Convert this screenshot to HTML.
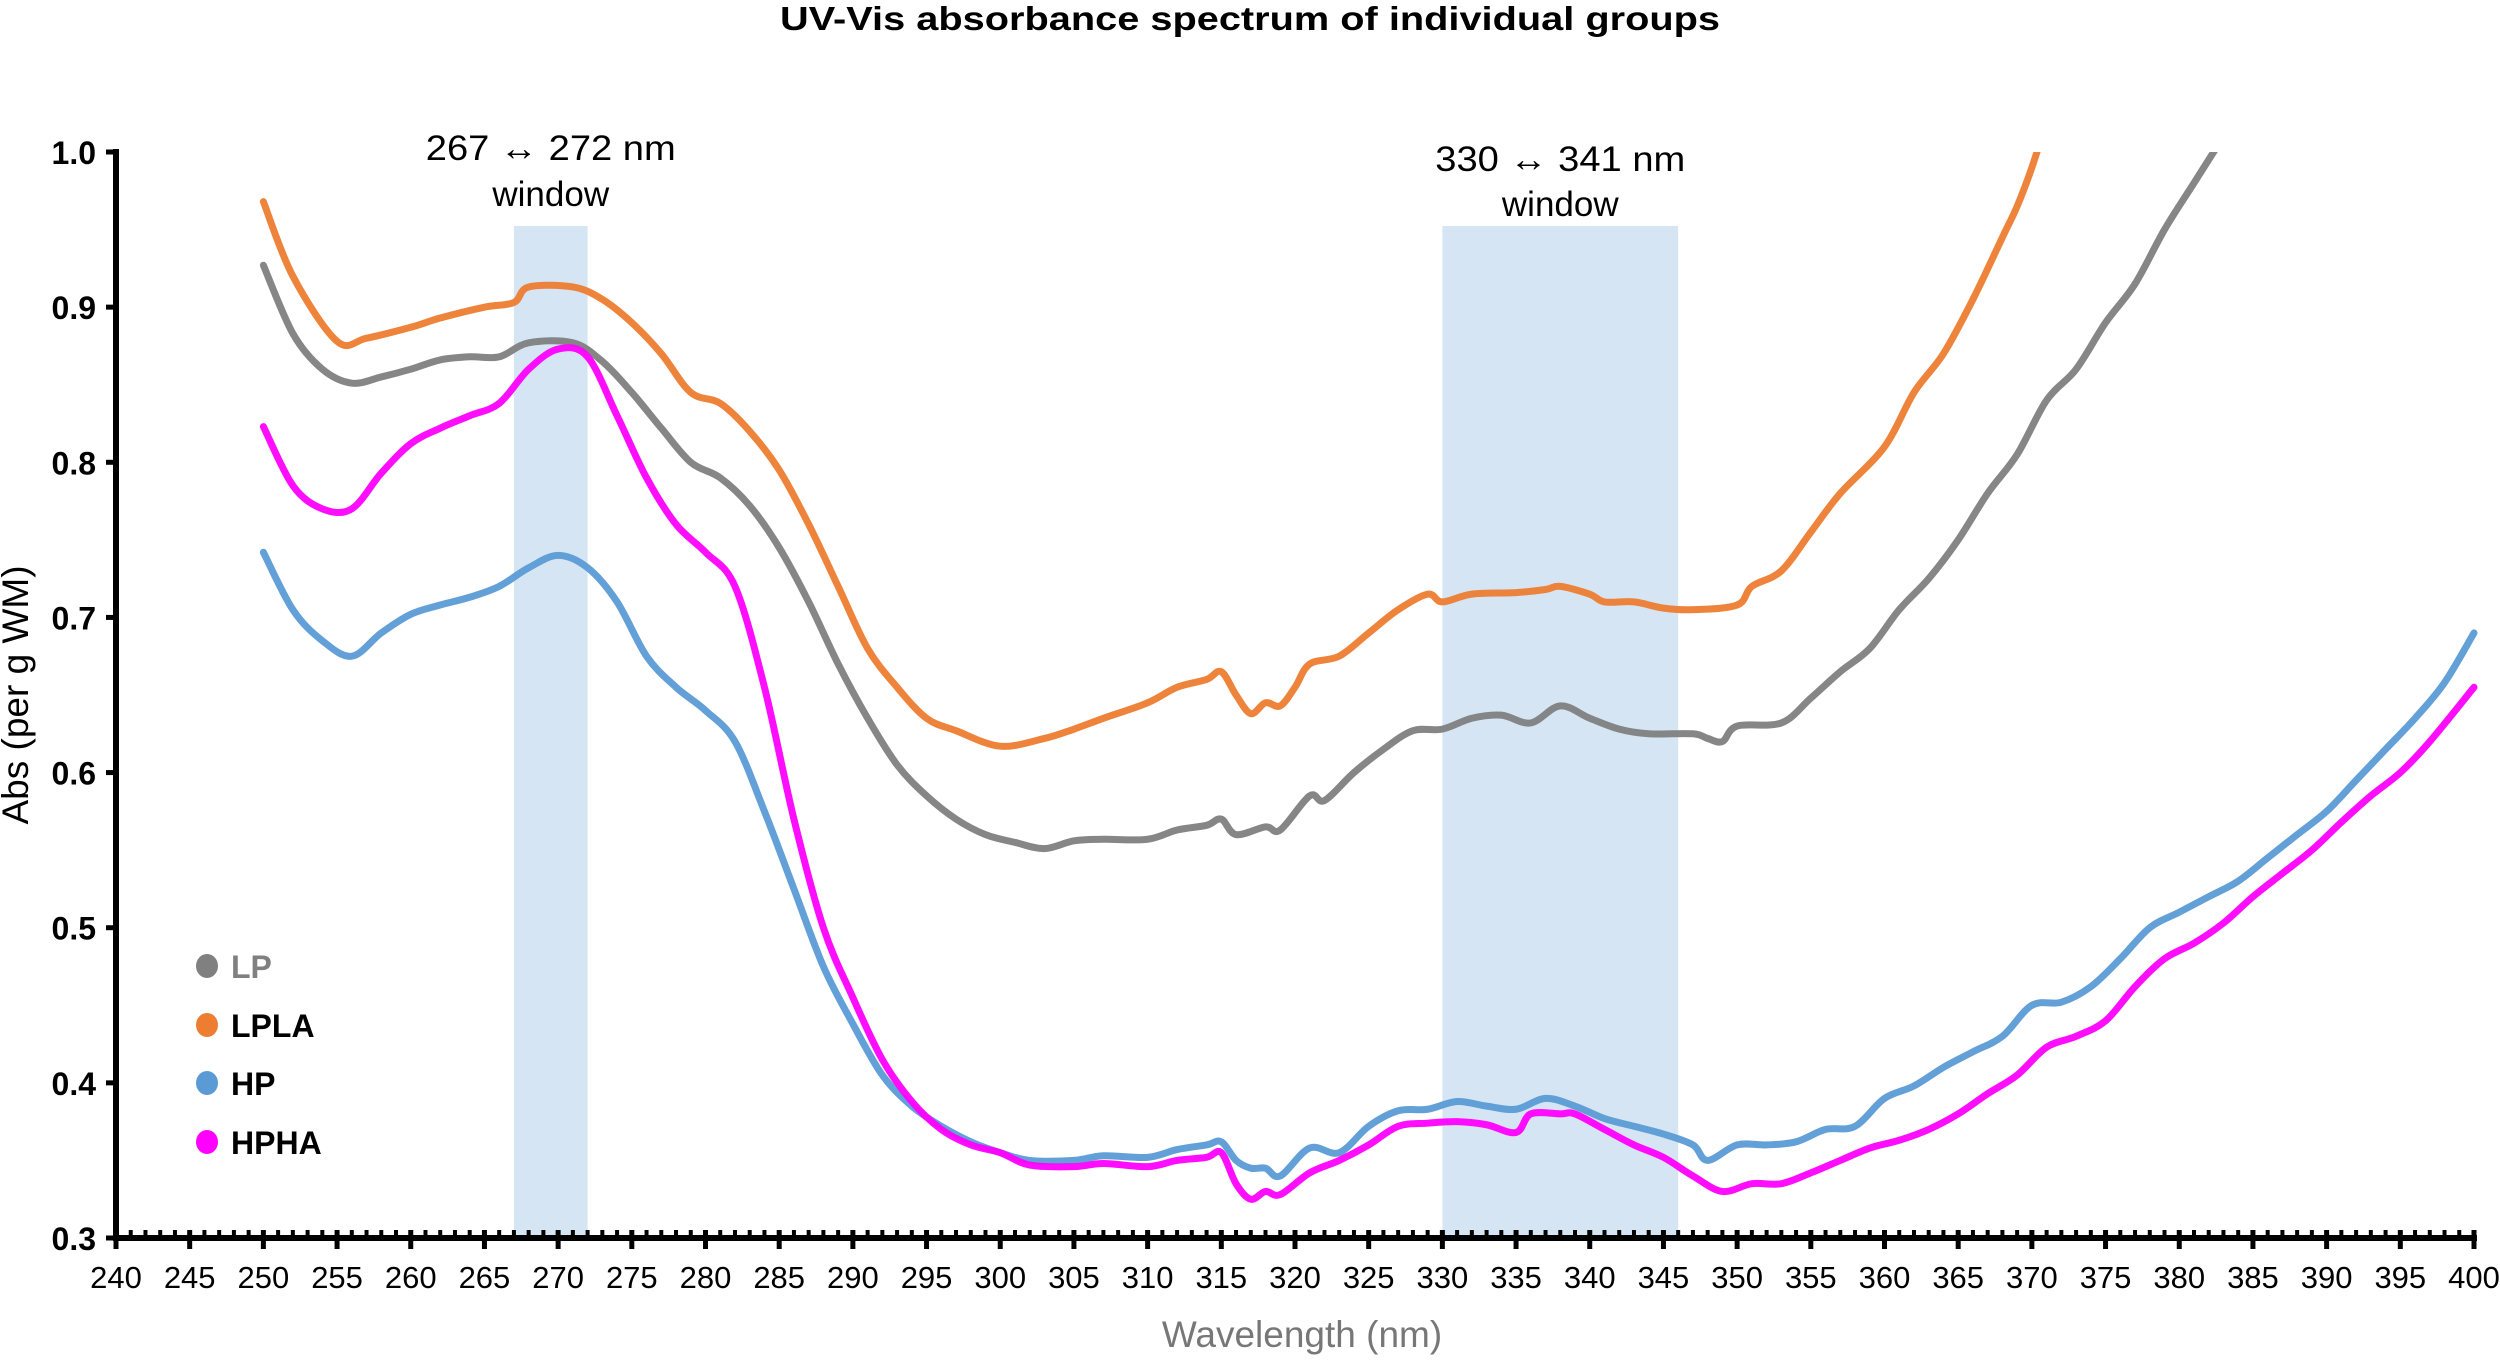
<!DOCTYPE html>
<html><head><meta charset="utf-8"><style>
body{margin:0;background:#fff;}
svg text{font-family:"Liberation Sans",Arial,sans-serif;}
</style></head><body>
<svg id="chart" width="2500" height="1359" viewBox="0 0 2500 1359" xmlns="http://www.w3.org/2000/svg">
<text x="1250" y="30" text-anchor="middle" font-size="33" font-weight="bold" textLength="940" lengthAdjust="spacingAndGlyphs">UV-Vis absorbance spectrum of individual groups</text>
<g id="bands"></g>
<g id="series"></g>
<g id="axes"></g>
<g id="legend"></g>
<text x="1302" y="1347" text-anchor="middle" font-size="37" fill="#777">Wavelength (nm)</text>
<text transform="translate(28,695) rotate(-90)" text-anchor="middle" font-size="37" fill="#000">Abs (per g WM)</text>
</svg>
<script>
const xTicks=[240,245,250,255,260,265,270,275,280,285,290,295,300,305,310,315,320,325,330,335,340,345,350,355,360,365,370,375,380,385,390,395,400];
const yTicks=[0.3,0.4,0.5,0.6,0.7,0.8,0.9,1.0];
const bandStarts=[267,330];
const bandEnds=[272,346];
const bandLabels=["267 \u2194 272 nm","330 \u2194 341 nm"];
const seriesNames=["LP","LPLA","HP","HPHA"];
const seriesColors=["#808080","#ED7D31","#5B9BD5","#FF00FF"];
const lpW=[250,252,254,256,258,260,262,264,266,268,271,273,275,277,279,281,283,285,287,289,291,293,295,297,299,301,303,305,307,310,312,314,315,316,318,319,321,322,324,326,328,330,332,334,336,338,340,342,344,347,348,349,350,353,355,357,359,361,363,365,367,369,371,373,375,377,379,381,383];
const lpV=[0.927,0.883,0.86,0.851,0.855,0.86,0.866,0.868,0.868,0.877,0.877,0.865,0.845,0.822,0.8,0.79,0.772,0.745,0.71,0.67,0.635,0.605,0.585,0.57,0.56,0.555,0.551,0.556,0.557,0.557,0.563,0.566,0.57,0.56,0.565,0.563,0.585,0.582,0.6,0.615,0.627,0.628,0.635,0.637,0.632,0.643,0.635,0.628,0.625,0.625,0.622,0.62,0.63,0.632,0.648,0.665,0.68,0.705,0.725,0.75,0.78,0.805,0.84,0.86,0.89,0.915,0.95,0.98,1.01];
const lplaW=[250,252,255,257,260,262,265,267,268,271,273,275,277,279,281,283,285,287,289,291,293,295,297,300,303,305,307,310,312,314,315,316,317,318,319,320,321,323,325,327,329,330,332,335,337,338,340,341,343,345,347,350,351,353,355,357,360,362,364,366,368,369,370,371];
const lplaV=[0.968,0.92,0.878,0.88,0.887,0.893,0.9,0.903,0.913,0.913,0.905,0.89,0.87,0.845,0.838,0.82,0.795,0.76,0.72,0.68,0.655,0.635,0.627,0.617,0.622,0.628,0.635,0.645,0.655,0.66,0.665,0.65,0.638,0.645,0.643,0.655,0.67,0.675,0.69,0.705,0.715,0.71,0.715,0.716,0.718,0.72,0.715,0.71,0.71,0.706,0.705,0.708,0.72,0.73,0.755,0.78,0.81,0.845,0.87,0.905,0.945,0.965,0.99,1.02];
const hpW=[250,252,254,256,258,260,262,264,266,268,270,272,274,276,278,280,282,284,286,288,290,292,294,296,298,300,302,305,307,310,312,314,315,316,317,318,319,321,323,325,327,329,331,333,335,337,339,341,343,345,347,348,350,352,354,356,358,360,362,364,366,368,370,372,374,376,378,380,382,384,386,388,390,392,394,396,398,400];
const hpV=[0.742,0.705,0.685,0.675,0.69,0.702,0.708,0.713,0.72,0.732,0.74,0.732,0.71,0.675,0.655,0.64,0.62,0.575,0.525,0.475,0.438,0.405,0.385,0.372,0.362,0.355,0.35,0.35,0.353,0.352,0.357,0.36,0.362,0.35,0.345,0.345,0.34,0.358,0.355,0.372,0.382,0.383,0.388,0.385,0.383,0.39,0.385,0.377,0.372,0.367,0.36,0.35,0.36,0.36,0.362,0.37,0.372,0.39,0.398,0.41,0.42,0.43,0.45,0.452,0.462,0.48,0.5,0.51,0.52,0.53,0.545,0.56,0.575,0.595,0.615,0.635,0.658,0.69];
const hphaW=[250,252,254,256,258,260,262,264,266,268,270,272,274,276,278,280,282,284,286,288,290,292,294,296,298,300,302,305,307,310,312,314,315,316,317,318,319,321,323,325,327,329,331,333,335,336,338,339,341,343,345,347,349,351,353,355,357,359,361,363,365,367,369,371,373,375,377,379,381,383,385,387,389,391,393,395,397,400];
const hphaV=[0.823,0.785,0.77,0.77,0.793,0.812,0.822,0.83,0.838,0.86,0.873,0.868,0.83,0.79,0.76,0.742,0.72,0.655,0.57,0.5,0.455,0.415,0.388,0.37,0.36,0.355,0.347,0.346,0.348,0.346,0.35,0.352,0.355,0.335,0.325,0.33,0.328,0.342,0.35,0.36,0.372,0.374,0.375,0.373,0.368,0.38,0.38,0.38,0.37,0.36,0.352,0.34,0.33,0.335,0.335,0.342,0.35,0.358,0.363,0.37,0.38,0.393,0.405,0.423,0.43,0.44,0.462,0.48,0.49,0.503,0.52,0.535,0.55,0.568,0.585,0.6,0.62,0.655];
const seriesW=[lpW,lplaW,hpW,hphaW];
const seriesV=[lpV,lplaV,hpV,hphaV];

const NS="http://www.w3.org/2000/svg";
const X0=116,X1=2474,Y0=1238,Y1=152;
const xs=w=>X0+(w-240)/(400-240)*(X1-X0);
const ys=v=>Y0-(v-0.3)/(1.0-0.3)*(Y0-Y1);
function mk(tag,attrs,parent){const e=document.createElementNS(NS,tag);for(const k in attrs)e.setAttribute(k,attrs[k]);parent.appendChild(e);return e;}
const svg=document.getElementById('chart');
const defs=mk('defs',{},svg);
const cp=mk('clipPath',{id:'plotclip'},defs);
mk('rect',{x:X0,y:Y1,width:X1-X0+20,height:Y0-Y1},cp);

const bands=document.getElementById('bands');
const labelY=[[160,206],[171,216]];
for(let i=0;i<bandStarts.length;i++){
  const r=mk('rect',{x:xs(bandStarts[i]),y:226,width:xs(bandEnds[i])-xs(bandStarts[i]),height:Y0-226,fill:'#d6e5f4'},bands);
  
  
  const cx=(xs(bandStarts[i])+xs(bandEnds[i]))/2;
  const t=mk('text',{x:cx,y:labelY[i][0],'text-anchor':'middle','font-size':35,textLength:250,lengthAdjust:'spacingAndGlyphs'},bands);t.textContent=bandLabels[i];
  
  
  const t2=mk('text',{x:cx,y:labelY[i][1],'text-anchor':'middle','font-size':35},bands);t2.textContent='window';
  
  
}

const sg=document.getElementById('series');
for(let s=0;s<seriesNames.length;s++){
  const W=seriesW[s],V=seriesV[s];
  const pts=W.map((w,i)=>[xs(w),ys(V[i])]);
  let d='M'+pts[0][0]+','+pts[0][1];
  for(let i=0;i<pts.length-1;i++){
    const p0=pts[i-1]||pts[i],p1=pts[i],p2=pts[i+1],p3=pts[i+2]||p2;
    const c1=[p1[0]+(p2[0]-p0[0])/6,p1[1]+(p2[1]-p0[1])/6];
    const c2=[p2[0]-(p3[0]-p1[0])/6,p2[1]-(p3[1]-p1[1])/6];
    d+=' C'+c1[0]+','+c1[1]+' '+c2[0]+','+c2[1]+' '+p2[0]+','+p2[1];
  }
  const p=mk('path',{d:d,fill:'none',stroke:seriesColors[s],'stroke-width':7,'stroke-linejoin':'round','stroke-linecap':'round','clip-path':'url(#plotclip)','opacity':0.95},sg);
  
  
}

const ax=document.getElementById('axes');
const yl=mk('line',{x1:X0,y1:Y1-3,x2:X0,y2:Y0+3,stroke:'#000','stroke-width':6},ax);


const xl=mk('line',{x1:X0-3,y1:Y0,x2:X1+3,y2:Y0,stroke:'#000','stroke-width':6},ax);


for(let w=240;w<=400;w++){
  if((w-240)%5!==0) mk('line',{x1:xs(w),y1:Y0-8,x2:xs(w),y2:Y0,stroke:'#000','stroke-width':4},ax);
}
xTicks.forEach(w=>{
  mk('line',{x1:xs(w),y1:Y0-8,x2:xs(w),y2:Y0+11,stroke:'#000','stroke-width':5},ax);
  const t=mk('text',{x:xs(w),y:Y0+50,'text-anchor':'middle','font-size':31},ax);t.textContent=w;
  
  
});
yTicks.forEach(v=>{
  mk('line',{x1:X0-10,y1:ys(v),x2:X0,y2:ys(v),stroke:'#000','stroke-width':5},ax);
  const t=mk('text',{x:X0-20,y:ys(v)+12,'text-anchor':'end','font-size':32,'font-weight':'bold'},ax);t.textContent=v.toFixed(1);
  
  
});

const lg=document.getElementById('legend');
const legY=[966,1025,1083,1142];
for(let s=0;s<seriesNames.length;s++){
  const g=mk('g',{},lg);
  
  
  mk('ellipse',{cx:207,cy:legY[s],rx:11,ry:12,fill:seriesColors[s]},g);
  const t=mk('text',{x:231,y:legY[s]+12,'font-size':32,'font-weight':'bold',fill:s===0?'#808080':'#000'},g);t.textContent=seriesNames[s];
}
</script>
</body></html>
